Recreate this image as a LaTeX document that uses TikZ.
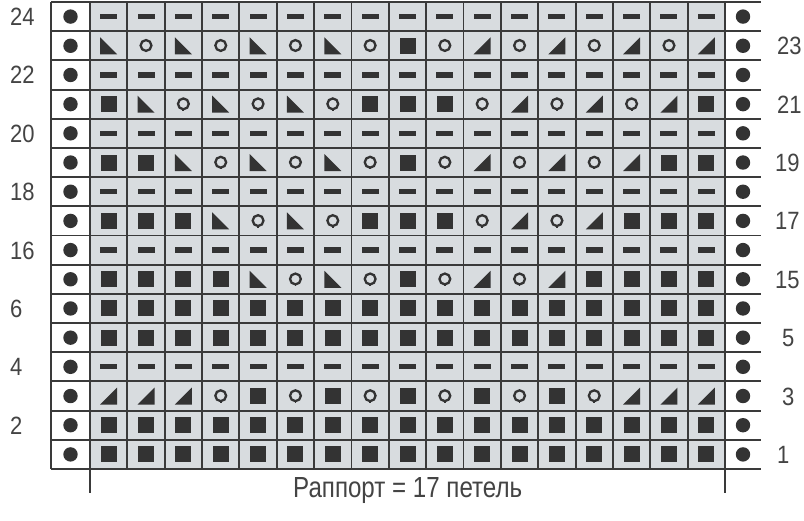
\documentclass[tikz,border=0pt]{standalone}
\usepackage{graphicx}
\usepackage{fontspec}
\setmainfont{Liberation Sans}
\definecolor{ink}{HTML}{333333}
\definecolor{chartbg}{HTML}{D8DCDF}
\definecolor{gridcol}{HTML}{3A3A3A}
\definecolor{labcol}{HTML}{444444}
\tikzset{
  gridline/.style={draw=gridcol, line width=1.9pt},
  symd/.pic={\fill[ink] (-8.5,-2.6) rectangle (8.5,2.6);},
  syms/.pic={\fill[ink] (-8,-8) rectangle (8,8);},
  syml/.pic={\fill[ink] (-8.5,-8.5) -- (-8.5,8.5) -- (8.5,8.5) -- cycle;},
  symr/.pic={\fill[ink] (8.5,-8.5) -- (8.5,8.5) -- (-8.5,8.5) -- cycle;},
  symo/.pic={\draw[ink, line width=2.3pt] (0,-0.3) circle (5.4); \draw[ink, line width=1.8pt] (0,4.8) -- (0,6.6);},
  symdot/.pic={\fill[ink] (0,0) circle (7.2);},
  lab/.style={anchor=base west, inner sep=0pt, text=labcol, font=\fontsize{25}{25}\selectfont}
}
\begin{document}
\begin{tikzpicture}[x=1pt,y=-1pt]
\def\W{37.3529}
\def\H{29.1875}
\useasboundingbox (0,0) rectangle (804,521);
\fill[white] (0,0) rectangle (804,521);
\fill[chartbg] (90,2) rectangle (725,469);
% symbols
\foreach \row [count=\i] in {
 {d,d,d,d,d,d,d,d,d,d,d,d,d,d,d,d,d},
 {l,o,l,o,l,o,l,o,s,o,r,o,r,o,r,o,r},
 {d,d,d,d,d,d,d,d,d,d,d,d,d,d,d,d,d},
 {s,l,o,l,o,l,o,s,s,s,o,r,o,r,o,r,s},
 {d,d,d,d,d,d,d,d,d,d,d,d,d,d,d,d,d},
 {s,s,l,o,l,o,l,o,s,o,r,o,r,o,r,s,s},
 {d,d,d,d,d,d,d,d,d,d,d,d,d,d,d,d,d},
 {s,s,s,l,o,l,o,s,s,s,o,r,o,r,s,s,s},
 {d,d,d,d,d,d,d,d,d,d,d,d,d,d,d,d,d},
 {s,s,s,s,l,o,l,o,s,o,r,o,r,s,s,s,s},
 {s,s,s,s,s,s,s,s,s,s,s,s,s,s,s,s,s},
 {s,s,s,s,s,s,s,s,s,s,s,s,s,s,s,s,s},
 {d,d,d,d,d,d,d,d,d,d,d,d,d,d,d,d,d},
 {r,r,r,o,s,o,s,o,s,o,s,o,s,o,r,r,r},
 {s,s,s,s,s,s,s,s,s,s,s,s,s,s,s,s,s},
 {s,s,s,s,s,s,s,s,s,s,s,s,s,s,s,s,s}} {
  \foreach \s [count=\j] in \row {
    \pic at ({90+(\j-0.5)*\W},{2+(\i-0.5)*\H}) {sym\s};
  }
  \pic at (70.5,{2+(\i-0.5)*\H}) {symdot};
  \pic at (743,{2+(\i-0.5)*\H}) {symdot};
}
% grid
\foreach \k in {0,...,16} \draw[gridline] (51,{2+\k*\H}) -- (761,{2+\k*\H});
\draw[gridline] (51,2) -- (51,469);
\foreach \k in {1,...,16} \draw[gridline] ({90+\k*\W},2) -- ({90+\k*\W},469);
\draw[gridline] (90,2) -- (90,493);
\draw[gridline] (725,2) -- (725,493);
% left labels
\foreach \t/\i in {24/1,22/3,20/5,18/7,16/9,6/11,4/13,2/15}
  \node[lab] (L\t) at (10,{2+(\i-0.5)*\H+9}) {\scalebox{0.88}[1]{\t}};
% right labels
\foreach \t/\i/\x in {23/2/777,21/4/777,19/6/775,17/8/775,15/10/775,5/12/782,3/14/782,1/16/777}
  \node[lab] (R\t) at (\x,{2+(\i-0.5)*\H+9}) {\scalebox{0.88}[1]{\t}};
% caption
\node[anchor=base west, inner sep=0pt, text=labcol] (rapport) at (293,498)
  {\resizebox{229pt}{20pt}{Раппорт = 17 петель}};
\end{tikzpicture}
\end{document}
